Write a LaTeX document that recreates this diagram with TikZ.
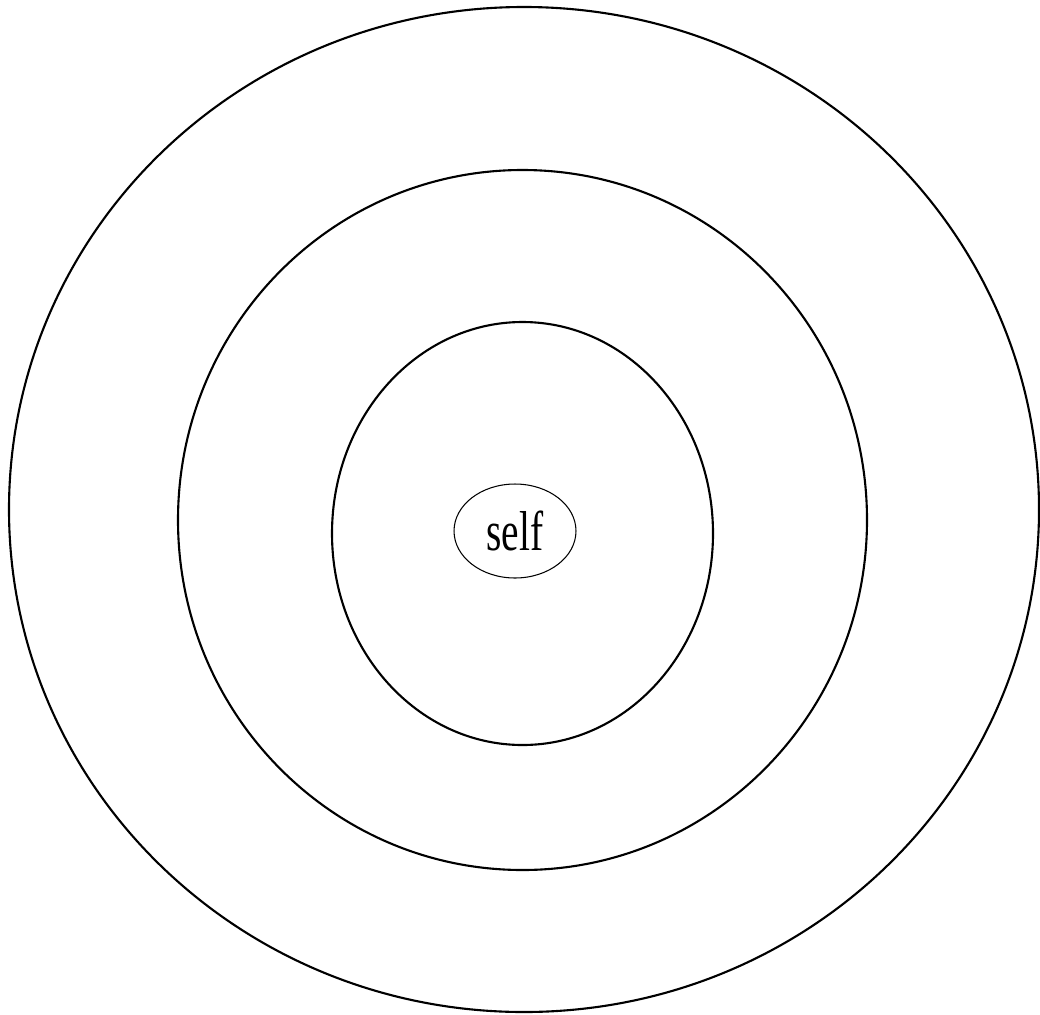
\documentclass[tikz,border=0pt]{standalone}
\usepackage{fontspec}
\setmainfont{Liberation Serif}
\usetikzlibrary{shapes.geometric}

\begin{document}
\begin{tikzpicture}[x=0.02cm, y=-0.02cm, ring/.style={draw=black, line width=1.2pt}]
  \useasboundingbox (0,0) rectangle (1040,1014);
  \draw[ring] (524,509.5) ellipse [x radius=515, y radius=502.5];
  \draw[ring] (522.5,520) ellipse [x radius=344.5, y radius=350];
  \draw[ring] (522.5,533.5) ellipse [x radius=190.5, y radius=211.5];
  \node[ellipse, draw, line width=0.6pt, inner sep=0pt, minimum width=2.44cm, minimum height=1.88cm,
        font=\fontsize{32}{38}\selectfont] (self) at (515,531) {\scalebox{0.7}[1]{self}};
\end{tikzpicture}
\end{document}
